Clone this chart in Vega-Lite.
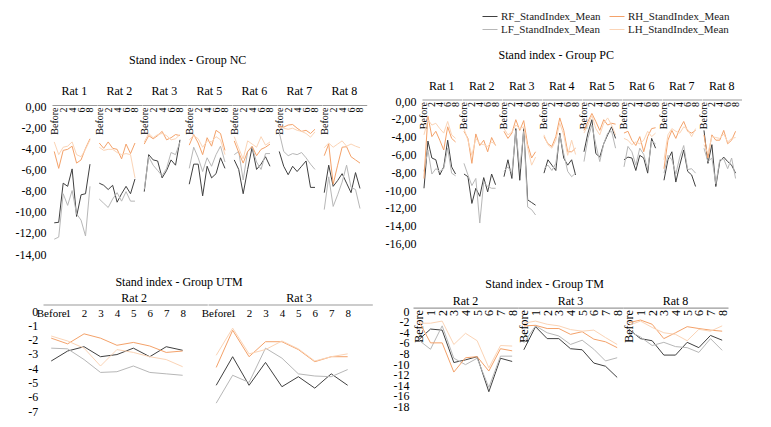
{
  "$schema": "https://vega.github.io/schema/vega-lite/v6.json",
  "background": "white",
  "padding": {"left": 5, "top": 8, "right": 5, "bottom": 5},
  "config": {
    "view": {"stroke": null},
    "font": "Liberation Serif",
    "axis": {"labelFont": "Liberation Serif", "labelColor": "#000"},
    "header": {"labelFont": "Liberation Serif", "labelFontSize": 12, "labelColor": "#000"},
    "title": {"font": "Liberation Serif", "fontSize": 12, "fontWeight": "normal", "color": "#000", "anchor": "middle", "frame": "bounds"},
    "line": {"strokeWidth": 1}
  },
  "data": {
    "values": [
      {"g": "NC", "r": "Rat 1", "s": "RF_StandIndex_Mean", "Before": -11.05, "1": -11.0, "2": -7.3, "3": -7.6, "4": -5.95, "5": -10.45, "6": -8.4, "7": -8.3, "8": -5.5},
      {"g": "NC", "r": "Rat 1", "s": "LF_StandIndex_Mean", "Before": -12.6, "1": -12.4, "2": -8.3, "3": -9.4, "4": -8.0, "5": -10.2, "6": -10.8, "7": -12.3, "8": -7.6},
      {"g": "NC", "r": "Rat 1", "s": "RH_StandIndex_Mean", "Before": -4.3, "1": -5.9, "2": -4.2, "3": -4.1, "4": -3.8, "5": -5.4, "6": -5.1, "7": -4.0, "8": -3.1},
      {"g": "NC", "r": "Rat 1", "s": "LH_StandIndex_Mean", "Before": -3.4, "1": -4.6, "2": -3.9, "3": -3.8, "4": -3.4, "5": -4.6, "6": -4.8, "7": -4.1, "8": -3.2},
      {"g": "NC", "r": "Rat 2", "s": "RF_StandIndex_Mean", "Before": -7.3, "1": -7.5, "2": -7.9, "3": -7.5, "4": -9.1, "5": -8.3, "6": -7.6, "7": -8.3, "8": -6.9},
      {"g": "NC", "r": "Rat 2", "s": "LF_StandIndex_Mean", "Before": -8.8, "1": -9.2, "2": -9.6, "3": -8.8, "4": -8.2, "5": -9.0, "6": -8.1, "7": -9.0, "8": -9.0},
      {"g": "NC", "r": "Rat 2", "s": "RH_StandIndex_Mean", "Before": -3.5, "1": -4.0, "2": -3.4, "3": -4.0, "4": -4.1, "5": -5.0, "6": -3.6, "7": -4.5, "8": -3.5},
      {"g": "NC", "r": "Rat 2", "s": "LH_StandIndex_Mean", "Before": -3.9, "1": -4.2, "2": -4.1, "3": -4.1, "4": -4.4, "5": -4.6, "6": -4.5, "7": -4.6, "8": -6.8},
      {"g": "NC", "r": "Rat 3", "s": "RF_StandIndex_Mean", "Before": -8.1, "1": -4.6, "2": -5.1, "3": -5.2, "4": -6.8, "5": -6.1, "6": -5.1, "7": -5.6, "8": -3.2},
      {"g": "NC", "r": "Rat 3", "s": "LF_StandIndex_Mean", "Before": -7.9, "1": -4.8, "2": -5.6, "3": -6.1, "4": -6.6, "5": -5.9, "6": -4.4, "7": -4.6, "8": -3.4},
      {"g": "NC", "r": "Rat 3", "s": "RH_StandIndex_Mean", "Before": -3.6, "1": -2.8, "2": -3.1, "3": -2.8, "4": -2.4, "5": -3.2, "6": -3.0, "7": -2.7, "8": -2.8},
      {"g": "NC", "r": "Rat 3", "s": "LH_StandIndex_Mean", "Before": -3.4, "1": -2.6, "2": -3.0, "3": -2.7, "4": -2.6, "5": -2.8, "6": -3.2, "7": -3.1, "8": -2.7},
      {"g": "NC", "r": "Rat 5", "s": "RF_StandIndex_Mean", "Before": -7.4, "1": -5.5, "2": -5.5, "3": -8.5, "4": -5.7, "5": -6.8, "6": -6.4, "7": -4.9, "8": -5.9},
      {"g": "NC", "r": "Rat 5", "s": "LF_StandIndex_Mean", "Before": -5.9, "1": -3.9, "2": -4.9, "3": -6.2, "4": -4.9, "5": -5.7, "6": -4.6, "7": -3.8, "8": -5.3},
      {"g": "NC", "r": "Rat 5", "s": "RH_StandIndex_Mean", "Before": -3.7, "1": -2.7, "2": -3.5, "3": -4.6, "4": -3.0, "5": -3.8, "6": -2.3, "7": -2.6, "8": -4.2},
      {"g": "NC", "r": "Rat 5", "s": "LH_StandIndex_Mean", "Before": -3.2, "1": -2.8, "2": -3.1, "3": -3.9, "4": -3.3, "5": -3.4, "6": -2.9, "7": -3.2, "8": -4.6},
      {"g": "NC", "r": "Rat 6", "s": "RF_StandIndex_Mean", "Before": -5.1, "1": -6.0, "2": -8.3, "3": -6.0, "4": -3.9, "5": -6.0, "6": -5.5, "7": -4.8, "8": -5.7},
      {"g": "NC", "r": "Rat 6", "s": "LF_StandIndex_Mean", "Before": -4.6, "1": -4.3, "2": -7.0, "3": -4.3, "4": -3.9, "5": -5.3, "6": -6.0, "7": -4.5, "8": -4.5},
      {"g": "NC", "r": "Rat 6", "s": "RH_StandIndex_Mean", "Before": -3.3, "1": -4.4, "2": -5.4, "3": -4.3, "4": -3.8, "5": -4.7, "6": -4.1, "7": -3.9, "8": -3.6},
      {"g": "NC", "r": "Rat 6", "s": "LH_StandIndex_Mean", "Before": -2.9, "1": -4.0, "2": -5.0, "3": -3.3, "4": -3.6, "5": -3.9, "6": -2.9, "7": -3.7, "8": -3.4},
      {"g": "NC", "r": "Rat 7", "s": "RF_StandIndex_Mean", "Before": -4.3, "1": -5.7, "2": -6.5, "3": -5.7, "4": -6.2, "5": -5.7, "6": -5.2, "7": -7.7, "8": -7.7},
      {"g": "NC", "r": "Rat 7", "s": "LF_StandIndex_Mean", "Before": -2.5, "1": -4.3, "2": -4.7, "3": -4.5, "4": -4.6, "5": -4.4, "6": -4.9, "7": -5.5, "8": -6.0},
      {"g": "NC", "r": "Rat 7", "s": "RH_StandIndex_Mean", "Before": -1.9, "1": -2.0, "2": -1.8, "3": -1.75, "4": -2.1, "5": -2.4, "6": -2.3, "7": -2.6, "8": -2.2},
      {"g": "NC", "r": "Rat 7", "s": "LH_StandIndex_Mean", "Before": -2.0, "1": -2.1, "2": -2.2, "3": -2.1, "4": -2.3, "5": -2.4, "6": -2.6, "7": -2.95, "8": -2.45},
      {"g": "NC", "r": "Rat 8", "s": "RF_StandIndex_Mean", "Before": -8.2, "1": -5.6, "2": -7.6, "3": -7.05, "4": -6.4, "5": -7.3, "6": -8.2, "7": -6.3, "8": -7.8},
      {"g": "NC", "r": "Rat 8", "s": "LF_StandIndex_Mean", "Before": -9.8, "1": -6.7, "2": -9.5, "3": -8.4, "4": -7.2, "5": -5.6, "6": -7.7, "7": -7.9, "8": -9.7},
      {"g": "NC", "r": "Rat 8", "s": "RH_StandIndex_Mean", "Before": -4.7, "1": -3.6, "2": -7.4, "3": -5.6, "4": -3.9, "5": -3.85, "6": -4.8, "7": -5.1, "8": -5.4},
      {"g": "NC", "r": "Rat 8", "s": "LH_StandIndex_Mean", "Before": -3.95, "1": -3.5, "2": -3.9, "3": -3.6, "4": -3.3, "5": -3.8, "6": -3.6, "7": -3.8, "8": -3.95},
      {"g": "PC", "r": "Rat 1", "s": "RF_StandIndex_Mean", "Before": -9.8, "1": -4.5, "2": -6.4, "3": -6.6, "4": -8.3, "5": -7.4, "6": -4.4, "7": -7.4, "8": -8.2},
      {"g": "PC", "r": "Rat 1", "s": "LF_StandIndex_Mean", "Before": -7.9, "1": -5.5, "2": -8.2, "3": -7.6, "4": -7.9, "5": -7.6, "6": -5.3, "7": -8.1, "8": -8.4},
      {"g": "PC", "r": "Rat 1", "s": "RH_StandIndex_Mean", "Before": -8.7, "1": -1.7, "2": -4.0, "3": -3.4, "4": -4.4, "5": -5.5, "6": -2.9, "7": -4.2, "8": -4.6},
      {"g": "PC", "r": "Rat 1", "s": "LH_StandIndex_Mean", "Before": -3.8, "1": -2.1, "2": -2.7, "3": -2.5, "4": -3.1, "5": -3.6, "6": -2.3, "7": -3.8, "8": -4.2},
      {"g": "PC", "r": "Rat 2", "s": "RF_StandIndex_Mean", "Before": -8.2, "1": -8.5, "2": -11.5, "3": -9.8, "4": -10.7, "5": -8.6, "6": -10.2, "7": -8.2, "8": -9.4},
      {"g": "PC", "r": "Rat 2", "s": "LF_StandIndex_Mean", "Before": -7.0, "1": -8.3, "2": -9.5, "3": -8.7, "4": -13.7, "5": -9.1, "6": -9.6, "7": -9.8, "8": -9.8},
      {"g": "PC", "r": "Rat 2", "s": "RH_StandIndex_Mean", "Before": -3.4, "1": -4.2, "2": -7.0, "3": -3.7, "4": -5.0, "5": -4.4, "6": -5.7, "7": -4.1, "8": -5.0},
      {"g": "PC", "r": "Rat 2", "s": "LH_StandIndex_Mean", "Before": -3.1, "1": -4.4, "2": -6.1, "3": -4.2, "4": -4.8, "5": -4.9, "6": -5.1, "7": -4.6, "8": -4.9},
      {"g": "PC", "r": "Rat 3", "s": "RF_StandIndex_Mean", "Before": -8.5, "1": -6.6, "2": -8.7, "3": -3.1, "4": -8.9, "5": -3.1, "6": -11.1, "7": -11.4, "8": -11.7},
      {"g": "PC", "r": "Rat 3", "s": "LF_StandIndex_Mean", "Before": -7.9, "1": -7.4, "2": -8.1, "3": -3.3, "4": -7.6, "5": -3.4, "6": -11.9, "7": -12.2, "8": -12.8},
      {"g": "PC", "r": "Rat 3", "s": "RH_StandIndex_Mean", "Before": -3.4, "1": -4.2, "2": -3.6, "3": -2.1, "4": -3.3, "5": -2.2, "6": -4.9, "7": -6.4, "8": -5.7},
      {"g": "PC", "r": "Rat 3", "s": "LH_StandIndex_Mean", "Before": -3.1, "1": -3.8, "2": -3.5, "3": -2.7, "4": -3.1, "5": -2.9, "6": -5.3, "7": -7.2, "8": -6.3},
      {"g": "PC", "r": "Rat 4", "s": "RF_StandIndex_Mean", "Before": -8.1, "1": -6.6, "2": -7.2, "3": -7.8, "4": -3.6, "5": -6.4, "6": -7.2, "7": -6.6, "8": -8.3},
      {"g": "PC", "r": "Rat 4", "s": "LF_StandIndex_Mean", "Before": -7.6, "1": -7.2, "2": -7.8, "3": -7.0, "4": -3.8, "5": -5.9, "6": -7.9, "7": -8.5, "8": -8.1},
      {"g": "PC", "r": "Rat 4", "s": "RH_StandIndex_Mean", "Before": -4.0, "1": -4.8, "2": -5.1, "3": -4.0, "4": -1.9, "5": -3.3, "6": -5.7, "7": -5.7, "8": -5.3},
      {"g": "PC", "r": "Rat 4", "s": "LH_StandIndex_Mean", "Before": -3.8, "1": -4.9, "2": -5.3, "3": -4.4, "4": -2.5, "5": -3.8, "6": -6.1, "7": -4.4, "8": -6.0},
      {"g": "PC", "r": "Rat 5", "s": "RF_StandIndex_Mean", "Before": -5.7, "1": -3.6, "2": -2.1, "3": -5.9, "4": -6.3, "5": -4.8, "6": -3.8, "7": -2.9, "8": -4.2},
      {"g": "PC", "r": "Rat 5", "s": "LF_StandIndex_Mean", "Before": -6.8, "1": -4.2, "2": -2.7, "3": -4.9, "4": -6.8, "5": -4.8, "6": -3.6, "7": -3.4, "8": -5.3},
      {"g": "PC", "r": "Rat 5", "s": "RH_StandIndex_Mean", "Before": -3.3, "1": -2.3, "2": -1.4, "3": -2.3, "4": -3.3, "5": -2.1, "6": -2.7, "7": -2.5, "8": -2.6},
      {"g": "PC", "r": "Rat 5", "s": "LH_StandIndex_Mean", "Before": -3.6, "1": -2.7, "2": -1.6, "3": -3.1, "4": -3.8, "5": -2.5, "6": -1.9, "7": -2.7, "8": -3.8},
      {"g": "PC", "r": "Rat 6", "s": "RF_StandIndex_Mean", "Before": -6.6, "1": -6.3, "2": -6.4, "3": -7.8, "4": -6.1, "5": -6.4, "6": -8.1, "7": -4.2, "8": -5.3},
      {"g": "PC", "r": "Rat 6", "s": "LF_StandIndex_Mean", "Before": -7.4, "1": -5.1, "2": -5.7, "3": -7.2, "4": -5.3, "5": -6.0, "6": -7.6, "7": -4.5, "8": -4.8},
      {"g": "PC", "r": "Rat 6", "s": "RH_StandIndex_Mean", "Before": -3.6, "1": -3.4, "2": -4.4, "3": -5.0, "4": -4.0, "5": -5.7, "6": -4.0, "7": -3.1, "8": -3.0},
      {"g": "PC", "r": "Rat 6", "s": "LH_StandIndex_Mean", "Before": -4.2, "1": -4.4, "2": -4.9, "3": -4.6, "4": -4.8, "5": -4.4, "6": -3.4, "7": -4.0, "8": -3.6},
      {"g": "PC", "r": "Rat 7", "s": "RF_StandIndex_Mean", "Before": -8.9, "1": -6.6, "2": -5.7, "3": -9.1, "4": -7.2, "5": -5.5, "6": -7.9, "7": -8.3, "8": -9.6},
      {"g": "PC", "r": "Rat 7", "s": "LF_StandIndex_Mean", "Before": -8.1, "1": -6.1, "2": -6.6, "3": -8.2, "4": -6.3, "5": -5.0, "6": -7.7, "7": -7.6, "8": -8.1},
      {"g": "PC", "r": "Rat 7", "s": "RH_StandIndex_Mean", "Before": -7.6, "1": -4.4, "2": -3.3, "3": -4.2, "4": -3.1, "5": -2.3, "6": -3.4, "7": -3.6, "8": -3.3},
      {"g": "PC", "r": "Rat 7", "s": "LH_StandIndex_Mean", "Before": -6.6, "1": -3.8, "2": -3.1, "3": -3.4, "4": -3.6, "5": -2.9, "6": -3.2, "7": -4.0, "8": -3.1},
      {"g": "PC", "r": "Rat 8", "s": "RF_StandIndex_Mean", "Before": -3.3, "1": -7.0, "2": -4.9, "3": -9.6, "4": -6.8, "5": -6.3, "6": -6.8, "7": -7.2, "8": -8.1},
      {"g": "PC", "r": "Rat 8", "s": "LF_StandIndex_Mean", "Before": -5.3, "1": -6.8, "2": -6.4, "3": -9.3, "4": -6.6, "5": -6.5, "6": -7.6, "7": -6.4, "8": -8.7},
      {"g": "PC", "r": "Rat 8", "s": "RH_StandIndex_Mean", "Before": -3.8, "1": -6.4, "2": -3.8, "3": -4.4, "4": -4.4, "5": -3.3, "6": -4.8, "7": -4.4, "8": -3.4},
      {"g": "PC", "r": "Rat 8", "s": "LH_StandIndex_Mean", "Before": -4.9, "1": -5.9, "2": -4.0, "3": -4.1, "4": -4.2, "5": -3.7, "6": -4.6, "7": -4.2, "8": -4.1},
      {"g": "UTM", "r": "Rat 2", "s": "RF_StandIndex_Mean", "Before": -3.5, "1": -2.8, "2": -2.5, "3": -3.2, "4": -3.05, "5": -2.6, "6": -3.2, "7": -2.5, "8": -2.75},
      {"g": "UTM", "r": "Rat 2", "s": "LF_StandIndex_Mean", "Before": -2.6, "1": -2.65, "2": -3.4, "3": -4.3, "4": -4.25, "5": -3.85, "6": -4.3, "7": -4.4, "8": -4.5},
      {"g": "UTM", "r": "Rat 2", "s": "RH_StandIndex_Mean", "Before": -1.9, "1": -2.3, "2": -1.6, "3": -1.9, "4": -2.4, "5": -2.2, "6": -2.45, "7": -2.9, "8": -2.8},
      {"g": "UTM", "r": "Rat 2", "s": "LH_StandIndex_Mean", "Before": -1.75, "1": -2.1, "2": -2.6, "3": -3.85, "4": -2.7, "5": -2.9, "6": -3.2, "7": -3.4, "8": -3.9},
      {"g": "UTM", "r": "Rat 3", "s": "RF_StandIndex_Mean", "Before": -5.2, "1": -3.2, "2": -5.2, "3": -3.6, "4": -5.3, "5": -4.6, "6": -5.4, "7": -4.4, "8": -5.2},
      {"g": "UTM", "r": "Rat 3", "s": "LF_StandIndex_Mean", "Before": -6.45, "1": -4.5, "2": -5.0, "3": -2.6, "4": -3.3, "5": -4.4, "6": -4.55, "7": -4.6, "8": -4.1},
      {"g": "UTM", "r": "Rat 3", "s": "RH_StandIndex_Mean", "Before": -3.95, "1": -1.35, "2": -3.2, "3": -2.15, "4": -2.15, "5": -2.7, "6": -3.55, "7": -3.2, "8": -3.2},
      {"g": "UTM", "r": "Rat 3", "s": "LH_StandIndex_Mean", "Before": -3.1, "1": -1.2, "2": -3.0, "3": -2.7, "4": -2.1, "5": -2.65, "6": -3.5, "7": -3.2, "8": -3.0},
      {"g": "TM", "r": "Rat 2", "s": "RF_StandIndex_Mean", "Before": -5.4, "1": -3.4, "2": -3.6, "3": -9.7, "4": -9.2, "5": -8.6, "6": -15.2, "7": -8.9, "8": -9.5},
      {"g": "TM", "r": "Rat 2", "s": "LF_StandIndex_Mean", "Before": -5.5, "1": -7.2, "2": -2.8, "3": -8.9, "4": -10.1, "5": -8.9, "6": -14.4, "7": -8.5, "8": -8.5},
      {"g": "TM", "r": "Rat 2", "s": "RH_StandIndex_Mean", "Before": -1.9, "1": -6.0, "2": -6.0, "3": -11.5, "4": -8.8, "5": -8.6, "6": -11.3, "7": -7.1, "8": -7.5},
      {"g": "TM", "r": "Rat 2", "s": "LH_StandIndex_Mean", "Before": -2.3, "1": -2.3, "2": -1.9, "3": -6.3, "4": -4.2, "5": -5.6, "6": -10.7, "7": -6.5, "8": -6.6},
      {"g": "TM", "r": "Rat 3", "s": "RF_StandIndex_Mean", "Before": -7.3, "1": -2.95, "2": -5.2, "3": -5.2, "4": -7.1, "5": -7.3, "6": -9.8, "7": -10.4, "8": -12.5},
      {"g": "TM", "r": "Rat 3", "s": "LF_StandIndex_Mean", "Before": -6.0, "1": -2.8, "2": -4.1, "3": -4.7, "4": -6.3, "5": -5.5, "6": -7.2, "7": -9.4, "8": -8.8},
      {"g": "TM", "r": "Rat 3", "s": "RH_StandIndex_Mean", "Before": -2.8, "1": -2.7, "2": -3.3, "3": -3.3, "4": -4.4, "5": -3.9, "6": -5.3, "7": -5.8, "8": -6.9},
      {"g": "TM", "r": "Rat 3", "s": "LH_StandIndex_Mean", "Before": -2.3, "1": -1.9, "2": -2.5, "3": -2.8, "4": -3.5, "5": -3.8, "6": -3.6, "7": -5.0, "8": -6.3},
      {"g": "TM", "r": "Rat 8", "s": "RF_StandIndex_Mean", "Before": -3.45, "1": -5.2, "2": -5.6, "3": -8.3, "4": -8.3, "5": -5.9, "6": -6.9, "7": -4.6, "8": -5.5},
      {"g": "TM", "r": "Rat 8", "s": "LF_StandIndex_Mean", "Before": -3.8, "1": -4.9, "2": -6.5, "3": -5.9, "4": -6.7, "5": -6.9, "6": -7.8, "7": -5.2, "8": -7.4},
      {"g": "TM", "r": "Rat 8", "s": "RH_StandIndex_Mean", "Before": -2.2, "1": -1.7, "2": -2.5, "3": -5.2, "4": -4.1, "5": -2.95, "6": -3.3, "7": -3.6, "8": -3.8},
      {"g": "TM", "r": "Rat 8", "s": "LH_StandIndex_Mean", "Before": -2.7, "1": -1.9, "2": -3.1, "3": -4.1, "4": -4.4, "5": -5.6, "6": -3.45, "7": -3.8, "8": -2.8}
    ]
  },
  "align": "none",
  "vconcat": [
    {
      "hconcat": [
        {
          "title": {"text": "Stand index - Group NC", "offset": 17.8},
          "transform": [
            {"filter": "datum.g == 'NC'"},
            {"fold": ["Before", "1", "2", "3", "4", "5", "6", "7", "8"], "as": ["t", "v"]}
          ],
          "facet": {"column": {"field": "r", "type": "nominal", "title": null, "header": {"labelPadding": 3}}},
          "spacing": 0,
          "bounds": "flush",
          "resolve": {"axis": {"x": "independent"}},
          "spec": {
            "width": 44.7,
            "height": 153,
            "mark": {"type": "line", "strokeWidth": 1},
            "encoding": {
              "x": {
                "field": "t", "type": "ordinal",
                "scale": {"type": "point", "domain": ["Before", "1", "2", "3", "4", "5", "6", "7", "8", "_"], "padding": 0.5},
                "axis": {"orient": "bottom", "offset": -149, "title": null, "ticks": false, "labelAngle": -90, "labelFontSize": 10, "labelPadding": 2, "labelOverlap": false, "domainColor": "#9a9a9a", "domainWidth": 1.2,
                  "labelExpr": "(datum.value == 'Before' || datum.value == '2' || datum.value == '4' || datum.value == '6' || datum.value == '8') ? datum.value : ''"}
              },
              "y": {
                "field": "v", "type": "quantitative",
                "scale": {"domain": [-14, 0.473], "nice": false},
                "axis": {"title": null, "values": [0, -2, -4, -6, -8, -10, -12, -14], "ticks": false, "domain": false, "grid": false, "labelFontSize": 12, "labelPadding": 6, "minExtent": 46.1, "labelFlush": false,
                  "labelExpr": "replace(replace(format(datum.value, '.2f'), '.', ','), '\u2212', '-')"}
              },
              "color": {
                "field": "s", "type": "nominal",
                "scale": {"domain": ["RF_StandIndex_Mean", "LF_StandIndex_Mean", "RH_StandIndex_Mean", "LH_StandIndex_Mean"], "range": ["#404040", "#b7b7b7", "#f4a26a", "#fbd4b6"]},
                "legend": {"orient": "none", "legendX": 430, "legendY": -92.5, "columns": 2, "title": null, "symbolType": "stroke", "symbolSize": 225, "symbolStrokeWidth": 1.5, "labelFont": "Liberation Serif", "labelFontSize": 11, "labelColor": "#222", "columnPadding": 6, "rowPadding": -1, "labelOffset": 3, "padding": 0}
              },
              "order": {"value": null}
            }
          }
        },
        {
          "title": {"text": "Stand index - Group PC", "offset": 18, "dx": -8},
          "transform": [
            {"filter": "datum.g == 'PC'"},
            {"fold": ["Before", "1", "2", "3", "4", "5", "6", "7", "8"], "as": ["t", "v"]}
          ],
          "facet": {"column": {"field": "r", "type": "nominal", "title": null, "header": {"labelPadding": 8}}},
          "spacing": 0,
          "bounds": "flush",
          "resolve": {"axis": {"x": "independent"}},
          "spec": {
            "width": 39.5,
            "height": 142.5,
            "mark": {"type": "line", "strokeWidth": 1},
            "encoding": {
              "x": {
                "field": "t", "type": "ordinal",
                "scale": {"type": "point", "domain": ["Before", "1", "2", "3", "4", "5", "6", "7", "8", "_"], "padding": 0.5},
                "axis": {"orient": "bottom", "offset": -144, "title": null, "ticks": false, "labelAngle": -90, "labelFontSize": 10, "labelPadding": 2, "labelOverlap": false, "domainColor": "#9a9a9a", "domainWidth": 1.2,
                  "labelExpr": "(datum.value == 'Before' || datum.value == '2' || datum.value == '4' || datum.value == '6' || datum.value == '8') ? datum.value : ''"}
              },
              "y": {
                "field": "v", "type": "quantitative",
                "scale": {"domain": [-16, 0], "nice": false},
                "axis": {"title": null, "values": [0, -2, -4, -6, -8, -10, -12, -14, -16], "ticks": false, "domain": false, "grid": false, "labelFontSize": 12, "labelPadding": 6, "minExtent": 38, "labelFlush": false,
                  "labelExpr": "replace(replace(format(datum.value, '.2f'), '.', ','), '\u2212', '-')"}
              },
              "color": {
                "field": "s", "type": "nominal",
                "scale": {"domain": ["RF_StandIndex_Mean", "LF_StandIndex_Mean", "RH_StandIndex_Mean", "LH_StandIndex_Mean"], "range": ["#404040", "#b7b7b7", "#f4a26a", "#fbd4b6"]},
                "legend": {"orient": "none", "legendX": 430, "legendY": -92.5, "columns": 2, "title": null, "symbolType": "stroke", "symbolSize": 225, "symbolStrokeWidth": 1.5, "labelFont": "Liberation Serif", "labelFontSize": 11, "labelColor": "#222", "columnPadding": 6, "rowPadding": -1, "labelOffset": 3, "padding": 0}
              },
              "order": {"value": null}
            }
          }
        }
      ],
      "spacing": 14
    },
    {
      "hconcat": [
        {
          "title": {"text": "Stand index - Group UTM", "offset": 3, "dx": -16},
          "transform": [
            {"filter": "datum.g == 'UTM'"},
            {"fold": ["Before", "1", "2", "3", "4", "5", "6", "7", "8"], "as": ["t", "v"]}
          ],
          "facet": {"column": {"field": "r", "type": "nominal", "title": null, "header": {"labelPadding": 6}}},
          "spacing": 0,
          "bounds": "flush",
          "resolve": {"axis": {"x": "independent"}},
          "spec": {
            "width": 164.3,
            "height": 100,
            "mark": {"type": "line", "strokeWidth": 1},
            "encoding": {
              "x": {
                "field": "t", "type": "ordinal",
                "scale": {"type": "point", "domain": ["Before", "1", "2", "3", "4", "5", "6", "7", "8", "_"], "padding": 0.5, "range": [-9, 155.3]},
                "axis": {"orient": "bottom", "offset": -106.5, "title": null, "ticks": false, "labelAngle": 0, "labelFontSize": 11, "labelPadding": 3, "labelOverlap": false, "domainColor": "#9a9a9a", "domainWidth": 1.2,
                  "labelExpr": "datum.value == '_' ? '' : datum.value"}
              },
              "y": {
                "field": "v", "type": "quantitative",
                "scale": {"domain": [-7, 0], "nice": false},
                "axis": {"title": null, "values": [0, -1, -2, -3, -4, -5, -6, -7], "ticks": false, "domain": false, "grid": false, "labelFontSize": 12, "labelPadding": 4, "offset": 10.2, "minExtent": 33, "labelFlush": false,
                  "labelExpr": "replace(format(datum.value, 'd'), '\u2212', '-')"}
              },
              "color": {
                "field": "s", "type": "nominal",
                "scale": {"domain": ["RF_StandIndex_Mean", "LF_StandIndex_Mean", "RH_StandIndex_Mean", "LH_StandIndex_Mean"], "range": ["#404040", "#b7b7b7", "#f4a26a", "#fbd4b6"]},
                "legend": {"orient": "none", "legendX": 430, "legendY": -92.5, "columns": 2, "title": null, "symbolType": "stroke", "symbolSize": 225, "symbolStrokeWidth": 1.5, "labelFont": "Liberation Serif", "labelFontSize": 11, "labelColor": "#222", "columnPadding": 6, "rowPadding": -1, "labelOffset": 3, "padding": 0}
              },
              "order": {"value": null}
            }
          }
        },
        {
          "title": {"text": "Stand index - Group TM", "offset": 4.4, "dx": -15},
          "transform": [
            {"filter": "datum.g == 'TM'"},
            {"fold": ["Before", "1", "2", "3", "4", "5", "6", "7", "8"], "as": ["t", "v"]}
          ],
          "facet": {"column": {"field": "r", "type": "nominal", "title": null, "header": {"labelPadding": 3}}},
          "spacing": 0,
          "bounds": "flush",
          "resolve": {"axis": {"x": "independent"}},
          "spec": {
            "width": 105,
            "height": 95.6,
            "mark": {"type": "line", "strokeWidth": 1},
            "encoding": {
              "x": {
                "field": "t", "type": "ordinal",
                "scale": {"type": "point", "domain": ["Before", "1", "2", "3", "4", "5", "6", "7", "8"], "padding": 0.5},
                "axis": {"orient": "bottom", "offset": -99, "title": null, "ticks": false, "labelAngle": -90, "labelFontSize": 12, "labelPadding": 2, "labelOverlap": false, "domainColor": "#9a9a9a", "domainWidth": 1.2}
              },
              "y": {
                "field": "v", "type": "quantitative",
                "scale": {"domain": [-18, 0], "nice": false},
                "axis": {"title": null, "values": [0, -2, -4, -6, -8, -10, -12, -14, -16, -18], "ticks": false, "domain": false, "grid": false, "labelFontSize": 12, "labelPadding": 4, "minExtent": 22, "labelFlush": false, "labelOverlap": false,
                  "labelExpr": "replace(format(datum.value, 'd'), '\u2212', '-')"}
              },
              "color": {
                "field": "s", "type": "nominal",
                "scale": {"domain": ["RF_StandIndex_Mean", "LF_StandIndex_Mean", "RH_StandIndex_Mean", "LH_StandIndex_Mean"], "range": ["#404040", "#b7b7b7", "#f4a26a", "#fbd4b6"]},
                "legend": {"orient": "none", "legendX": 430, "legendY": -92.5, "columns": 2, "title": null, "symbolType": "stroke", "symbolSize": 225, "symbolStrokeWidth": 1.5, "labelFont": "Liberation Serif", "labelFontSize": 11, "labelColor": "#222", "columnPadding": 6, "rowPadding": -1, "labelOffset": 3, "padding": 0}
              },
              "order": {"value": null}
            }
          }
        }
      ],
      "spacing": 9
    }
  ],
  "spacing": 16
}
